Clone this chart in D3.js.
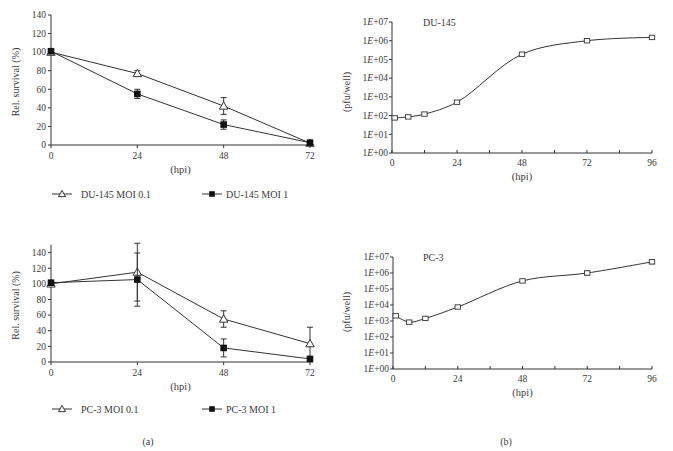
<!DOCTYPE html>
<html><head><meta charset="utf-8">
<script src="https://cdn.jsdelivr.net/npm/d3@7"></script>
<style>body{margin:0;background:#fff}svg{display:block}text{font-family:"Liberation Serif","DejaVu Serif",serif;fill:#3a3a3a}</style>
</head><body><svg id="c" width="673" height="451"></svg>
<script>
// ---- data ----
const survivalHours = [0, 24, 48, 72];
const du145Moi01 = [100, 77, 42, 2];
const du145Moi01Err = [1, 3, 9, 1];
const du145Moi1 = [101, 55, 22, 2.5];
const du145Moi1Err = [1, 5, 5, 2];
const pc3Moi01 = [100, 115, 55, 23.5];
const pc3Moi01Err = [1, 37, 10.5, 21];
const pc3Moi1 = [101.5, 105.5, 18, 4];
const pc3Moi1Err = [1, 34, 11.5, 1];
const survivalTicks = [0, 20, 40, 60, 80, 100, 120, 140];
const survivalXTicks = [0, 24, 48, 72];

const growthHours = [1, 6, 12, 24, 48, 72, 96];
const du145Pfu = [75, 85, 120, 520, 1.9e5, 1.0e6, 1.5e6];
const du145PfuErrLog = [0.08, 0.05, 0.05, 0.05, 0.07, 0.05, 0.05];
const pc3Pfu = [2100, 850, 1450, 7500, 3.2e5, 1.0e6, 5.0e6];
const pc3PfuErrLog = [0.07, 0.04, 0.1, 0.05, 0.04, 0.12, 0.12];
const growthXTicks = [0, 24, 48, 72, 96];
const growthXMinor = [12, 36, 60, 84];
const logTicks = [1, 10, 100, 1e3, 1e4, 1e5, 1e6, 1e7];

const svg = d3.select("#c");
const ink = "#333";

function linePanel(cfg) {
  const g = svg.append("g");
  const x = d3.scaleLinear().domain([0, 72]).range([51, 310]);
  const y = d3.scaleLinear().domain([0, cfg.ymax]).range([cfg.y0, cfg.ytop]);
  g.append("line").attr("x1", x(0)).attr("x2", 313).attr("y1", cfg.y0).attr("y2", cfg.y0).attr("stroke", ink);
  g.append("line").attr("x1", x(0)).attr("x2", x(0)).attr("y1", cfg.y0).attr("y2", y(cfg.ymax)).attr("stroke", ink);
  survivalTicks.forEach(t => {
    g.append("line").attr("x1", x(0) - 3).attr("x2", x(0)).attr("y1", y(t)).attr("y2", y(t)).attr("stroke", ink);
    g.append("text").attr("x", x(0) - 5).attr("y", y(t) + 3.3).attr("text-anchor", "end").attr("font-size", 9.5).text(t);
  });
  survivalXTicks.forEach(t => {
    g.append("line").attr("x1", x(t)).attr("x2", x(t)).attr("y1", cfg.y0).attr("y2", cfg.y0 + 3).attr("stroke", ink);
    g.append("text").attr("x", x(t)).attr("y", cfg.y0 + 14).attr("text-anchor", "middle").attr("font-size", 9.5).text(t);
  });
  g.append("text").attr("x", x(36)).attr("y", cfg.y0 + 28).attr("text-anchor", "middle").attr("font-size", 10.5).text("(hpi)");
  g.append("text").attr("transform", `translate(19,${(cfg.y0 + y(cfg.ymax)) / 2 + 2}) rotate(-90)`)
    .attr("text-anchor", "middle").attr("font-size", 10).text("Rel. survival (%)");
  const line = d3.line().x((d, i) => x(survivalHours[i])).y(d => y(d));
  cfg.series.forEach(s => {
    g.append("path").attr("d", line(s.v)).attr("fill", "none").attr("stroke", ink).attr("stroke-width", 1);
    s.v.forEach((v, i) => {
      const cx = x(survivalHours[i]);
      const e = s.e[i];
      g.append("line").attr("x1", cx).attr("x2", cx).attr("y1", y(v + e)).attr("y2", y(Math.max(0, v - e))).attr("stroke", ink);
      [v + e, Math.max(0, v - e)].forEach(w => g.append("line").attr("x1", cx - 3).attr("x2", cx + 3).attr("y1", y(w)).attr("y2", y(w)).attr("stroke", ink));
    });
    s.v.forEach((v, i) => marker(g, s.m, x(survivalHours[i]), y(v)));
  });
  // legend
  const ly = cfg.legendY;
  cfg.series.forEach((s, k) => {
    const lx = k === 0 ? 52 : 202;
    g.append("line").attr("x1", lx).attr("x2", lx + 20).attr("y1", ly).attr("y2", ly).attr("stroke", ink);
    marker(g, s.m, lx + 10, ly, 0.85);
    g.append("text").attr("x", lx + (k === 0 ? 29 : 24)).attr("y", ly + 3.5).attr("font-size", 10).text(s.name);
  });
}

function marker(g, m, cx, cy, sc = 1) {
  if (m === "tri") {
    const r = 4.2 * sc;
    g.append("path").attr("d", `M${cx},${cy - r}L${cx + r},${cy + r * 0.75}L${cx - r},${cy + r * 0.75}Z`)
      .attr("fill", "#fff").attr("stroke", ink).attr("stroke-width", 1);
  } else {
    const r = 3.3 * sc;
    g.append("rect").attr("x", cx - r).attr("y", cy - r).attr("width", 2 * r).attr("height", 2 * r).attr("fill", "#111");
  }
}

function logPanel(cfg) {
  const g = svg.append("g");
  const x = d3.scaleLinear().domain([0, 96]).range([cfg.x0, 652]);
  const y = d3.scaleLog().domain([1, 1e7]).range([cfg.y0, cfg.ytop]);
  g.append("line").attr("x1", cfg.x0).attr("x2", 652).attr("y1", cfg.y0).attr("y2", cfg.y0).attr("stroke", ink);
  g.append("line").attr("x1", cfg.x0).attr("x2", cfg.x0).attr("y1", cfg.y0).attr("y2", cfg.ytop).attr("stroke", ink);
  logTicks.forEach((t, i) => {
    g.append("line").attr("x1", cfg.x0 - 3).attr("x2", cfg.x0).attr("y1", y(t)).attr("y2", y(t)).attr("stroke", ink);
    const tx = g.append("text").attr("x", cfg.x0 - 4).attr("y", y(t) + 3.3).attr("text-anchor", "end").attr("font-size", 9.5);
    tx.append("tspan").text("1");
    tx.append("tspan").attr("font-style", "italic").text("E");
    tx.append("tspan").text("+0" + i);
  });
  growthXTicks.concat(growthXMinor).forEach(t => {
    g.append("line").attr("x1", x(t)).attr("x2", x(t)).attr("y1", cfg.y0).attr("y2", cfg.y0 - 3).attr("stroke", ink);
  });
  growthXTicks.forEach(t => {
    g.append("text").attr("x", x(t)).attr("y", cfg.y0 + 13).attr("text-anchor", "middle").attr("font-size", 9.5).text(t);
  });
  g.append("text").attr("x", x(48)).attr("y", cfg.y0 + 27).attr("text-anchor", "middle").attr("font-size", 10.5).text("(hpi)");
  g.append("text").attr("transform", `translate(350,${cfg.ymid}) rotate(-90)`)
    .attr("text-anchor", "middle").attr("font-size", 10).text("(pfu/well)");
  g.append("text").attr("x", cfg.labelX).attr("y", y(1e7) + 4).attr("font-size", 10).text(cfg.label);
  const line = d3.line().curve(d3.curveCatmullRom.alpha(0.5)).x((d, i) => x(growthHours[i])).y(d => y(d));
  g.append("path").attr("d", line(cfg.v)).attr("fill", "none").attr("stroke", ink);
  cfg.v.forEach((v, i) => {
    const cx = x(growthHours[i]);
    const hi = v * Math.pow(10, cfg.e[i]), lo = v / Math.pow(10, cfg.e[i]);
    g.append("line").attr("x1", cx).attr("x2", cx).attr("y1", y(hi)).attr("y2", y(lo)).attr("stroke", ink);
    [hi, lo].forEach(w => g.append("line").attr("x1", cx - 2.5).attr("x2", cx + 2.5).attr("y1", y(w)).attr("y2", y(w)).attr("stroke", ink));
    g.append("rect").attr("x", cx - 2.7).attr("y", y(v) - 2.2).attr("width", 5.4).attr("height", 4.4)
      .attr("fill", "#fff").attr("stroke", ink).attr("stroke-width", 0.9);
  });
}

linePanel({ ymax: 140, y0: 145, ytop: 15, legendY: 194,
  series: [{ v: du145Moi01, e: du145Moi01Err, m: "tri", name: "DU-145 MOI 0.1" },
           { v: du145Moi1, e: du145Moi1Err, m: "sq", name: "DU-145 MOI 1" }] });
linePanel({ ymax: 150, y0: 362, ytop: 244.8, legendY: 409,
  series: [{ v: pc3Moi01, e: pc3Moi01Err, m: "tri", name: "PC-3 MOI 0.1" },
           { v: pc3Moi1, e: pc3Moi1Err, m: "sq", name: "PC-3 MOI 1" }] });
logPanel({ x0: 392, y0: 153, ytop: 22, ymid: 92, v: du145Pfu, e: du145PfuErrLog, label: "DU-145", labelX: 423 });
logPanel({ x0: 393, y0: 369, ytop: 257, ymid: 312, v: pc3Pfu, e: pc3PfuErrLog, label: "PC-3", labelX: 423 });

svg.append("text").attr("x", 148).attr("y", 445).attr("text-anchor", "middle").attr("font-size", 10).text("(a)");
svg.append("text").attr("x", 506).attr("y", 445).attr("text-anchor", "middle").attr("font-size", 10).text("(b)");
</script></body></html>
